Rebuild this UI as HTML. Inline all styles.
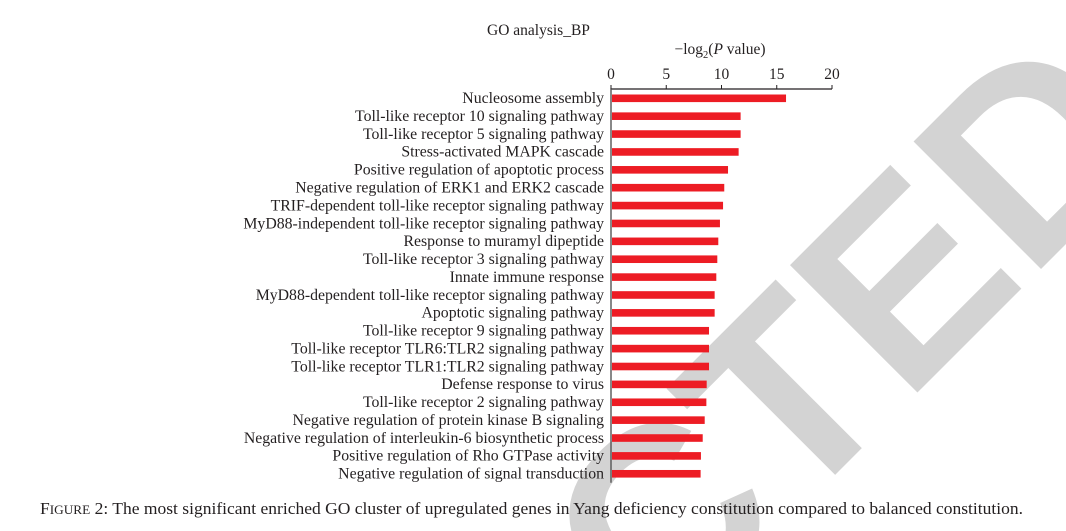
<!DOCTYPE html>
<html><head><meta charset="utf-8"><style>
html,body{margin:0;padding:0;background:#fff;width:1066px;height:531px;overflow:hidden;}
svg{display:block;overflow:hidden;}
text{font-family:"Liberation Serif",serif;fill:#231f20;}
</style></head><body>
<svg width="1066" height="531" viewBox="0 0 1066 531">
<text x="20" y="1290" transform="rotate(-45 20 1290)" style="font-family:'Liberation Sans',sans-serif;font-weight:bold;font-size:262px;fill:#d3d3d3">RETRACTED</text>
<text x="487" y="35" font-size="15.5">GO analysis_BP</text>
<text x="720" y="54" font-size="15.5" text-anchor="middle">−log<tspan font-size="10.5" dy="4">2</tspan><tspan dy="-4">(</tspan><tspan font-style="italic">P</tspan> value)</text>
<g id="axis"></g>
<g id="bars"></g>
<text x="40" y="514" font-size="16.5" textLength="983" lengthAdjust="spacingAndGlyphs">F<tspan font-size="12.5">IGURE</tspan> 2: The most significant enriched GO cluster of upregulated genes in Yang deficiency constitution compared to balanced constitution.</text>
</svg>
<script>
const categories=["Nucleosome assembly","Toll-like receptor 10 signaling pathway","Toll-like receptor 5 signaling pathway","Stress-activated MAPK cascade","Positive regulation of apoptotic process","Negative regulation of ERK1 and ERK2 cascade","TRIF-dependent toll-like receptor signaling pathway","MyD88-independent toll-like receptor signaling pathway","Response to muramyl dipeptide","Toll-like receptor 3 signaling pathway","Innate immune response","MyD88-dependent toll-like receptor signaling pathway","Apoptotic signaling pathway","Toll-like receptor 9 signaling pathway","Toll-like receptor TLR6:TLR2 signaling pathway","Toll-like receptor TLR1:TLR2 signaling pathway","Defense response to virus","Toll-like receptor 2 signaling pathway","Negative regulation of protein kinase B signaling","Negative regulation of interleukin-6 biosynthetic process","Positive regulation of Rho GTPase activity","Negative regulation of signal transduction"];
const values=[15.84,11.73,11.73,11.55,10.59,10.25,10.14,9.86,9.71,9.62,9.53,9.38,9.38,8.87,8.87,8.87,8.66,8.63,8.48,8.30,8.14,8.11];
const ticks=[0,5,10,15,20];
const NS="http://www.w3.org/2000/svg";
const x0=611,x1=832,xmax=20;
const xs=v=>x0+(x1-x0)*v/xmax;
const yTop=98.3,step=17.88;
const ys=i=>yTop+i*step;
const ax=document.getElementById('axis'),bg=document.getElementById('bars');
function mk(t,a,p){const e=document.createElementNS(NS,t);for(const k in a)e.setAttribute(k,a[k]);p.appendChild(e);return e;}
let l=mk('line',{x1:x0,y1:89,x2:x1,y2:89,stroke:'#231f20','stroke-width':1.2},ax);


l=mk('line',{x1:x0,y1:88.5,x2:x0,y2:ys(categories.length-1)+9,stroke:'#555','stroke-width':1.4},ax);


ticks.forEach(t=>{
  const tk=mk('line',{x1:xs(t),y1:85,x2:xs(t),y2:89,stroke:'#231f20','stroke-width':1},ax);
  
  
  const tl=mk('text',{x:xs(t),y:79,'font-size':15.5,'text-anchor':'middle'},ax);
  tl.textContent=t;
  
  
});
categories.forEach((c,i)=>{
  const r=mk('rect',{x:x0+1,y:ys(i)-3.8,width:xs(values[i])-x0-1,height:7.6,fill:'#ed1c24'},bg);
  
  
  const t=mk('text',{x:604,y:ys(i)+4.8,'font-size':15.8,'text-anchor':'end'},bg);
  t.textContent=c;
  
  
});
</script>
</body></html>
